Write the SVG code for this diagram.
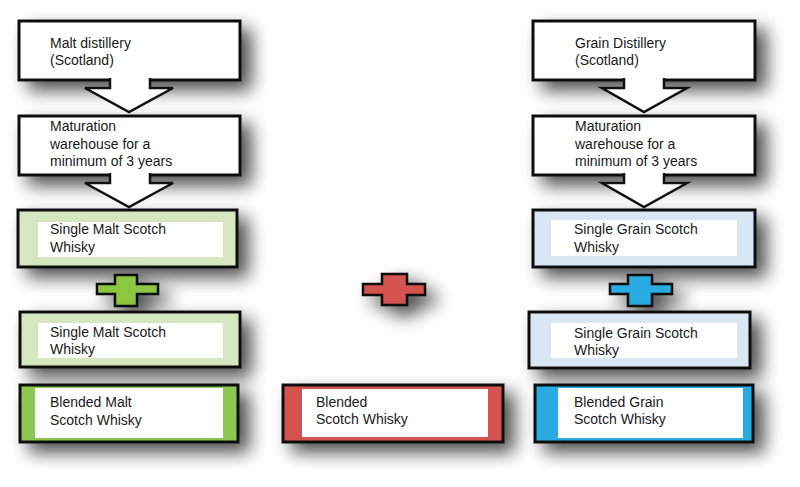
<svg xmlns="http://www.w3.org/2000/svg" width="800" height="487" viewBox="0 0 800 487">
<style>
text{font-family:"Liberation Sans",Arial,sans-serif;font-size:14px;fill:#1a1a1a}
.box{stroke:#111;stroke-width:3}
.inner{fill:#fff}
.arrow{fill:#fff;stroke:#111;stroke-width:2.5;stroke-linejoin:miter}
.plus{stroke:#111;stroke-width:2.5}
</style>
<defs>
<filter id="sh" filterUnits="userSpaceOnUse" x="0" y="0" width="800" height="487">
<feGaussianBlur in="SourceAlpha" stdDeviation="9"/>
<feOffset dx="10" dy="9" result="b"/>
<feComponentTransfer><feFuncA type="linear" slope="0.7"/></feComponentTransfer>
<feMerge><feMergeNode/><feMergeNode in="SourceGraphic"/></feMerge>
</filter>
</defs>
<rect width="800" height="487" fill="#fff"/>

<!-- Left column -->
<g id="malt-distillery">
<rect class="box" x="19" y="21" width="221" height="59" fill="#fff" filter="url(#sh)"/>
<text x="50" y="48">Malt distillery</text>
<text x="50" y="65">(Scotland)</text>
</g>
<g id="malt-maturation">
<rect class="box" x="19" y="116" width="221" height="59" fill="#fff" filter="url(#sh)"/>
<text x="50" y="131">Maturation</text>
<text x="50" y="148.5">warehouse for a</text>
<text x="50" y="166">minimum of 3 years</text>
</g>
<g id="single-malt-1">
<rect class="box" x="18" y="210" width="219" height="57" fill="#d6e6c0" filter="url(#sh)"/>
<rect class="inner" x="38" y="222" width="185" height="35"/>
<text x="50" y="234">Single Malt Scotch</text>
<text x="50" y="252">Whisky</text>
</g>
<g id="plus-green">
<path class="plus" fill="#8dc63f" filter="url(#sh)" d="M115,275 H137 V284 H158 V294 H137 V306 H115 V294 H97 V284 H115 Z"/>
</g>
<g id="single-malt-2">
<rect class="box" x="20" y="312" width="220" height="55" fill="#d6e6c0" filter="url(#sh)"/>
<rect class="inner" x="38" y="323" width="185" height="35"/>
<text x="50" y="337">Single Malt Scotch</text>
<text x="50" y="354">Whisky</text>
</g>
<g id="blended-malt">
<rect class="box" x="20" y="385" width="218" height="57" fill="#8dc651" filter="url(#sh)"/>
<rect class="inner" x="35" y="388" width="188" height="50"/>
<text x="50" y="407">Blended Malt</text>
<text x="50" y="425">Scotch Whisky</text>
</g>

<!-- Center -->
<g id="plus-red">
<path class="plus" fill="#d4534f" filter="url(#sh)" d="M382,274 H407 V284 H425 V295 H407 V305 H382 V295 H363 V284 H382 Z"/>
</g>
<g id="blended-scotch">
<rect class="box" x="283" y="385" width="220" height="57" fill="#d4534f" filter="url(#sh)"/>
<rect class="inner" x="302" y="389" width="186" height="48"/>
<text x="316" y="407">Blended</text>
<text x="316" y="424">Scotch Whisky</text>
</g>

<!-- Right column -->
<g id="grain-distillery">
<rect class="box" x="533" y="21" width="222" height="59" fill="#fff" filter="url(#sh)"/>
<text x="575" y="48">Grain Distillery</text>
<text x="575" y="65">(Scotland)</text>
</g>
<g id="grain-maturation">
<rect class="box" x="533" y="116" width="222" height="59" fill="#fff" filter="url(#sh)"/>
<text x="575" y="131">Maturation</text>
<text x="575" y="148.5">warehouse for a</text>
<text x="575" y="166">minimum of 3 years</text>
</g>
<g id="single-grain-1">
<rect class="box" x="533" y="210" width="222" height="57" fill="#dae6f4" filter="url(#sh)"/>
<rect class="inner" x="551" y="220" width="186" height="36"/>
<text x="574" y="234">Single Grain Scotch</text>
<text x="574" y="252">Whisky</text>
</g>
<g id="plus-blue">
<path class="plus" fill="#29abe2" filter="url(#sh)" d="M628,275 H652 V284 H672 V294 H652 V306 H628 V294 H610 V284 H628 Z"/>
</g>
<g id="single-grain-2">
<rect class="box" x="529" y="312" width="221" height="56" fill="#dae6f4" filter="url(#sh)"/>
<rect class="inner" x="551" y="323" width="186" height="35"/>
<text x="574" y="338">Single Grain Scotch</text>
<text x="574" y="355">Whisky</text>
</g>
<g id="blended-grain">
<rect class="box" x="535" y="385" width="218" height="57" fill="#29abe2" filter="url(#sh)"/>
<rect class="inner" x="558" y="388" width="185" height="50"/>
<text x="574" y="407">Blended Grain</text>
<text x="574" y="424">Scotch Whisky</text>
</g>

<!-- Connectors -->
<g id="connectors">
<path class="arrow" d="M110,78 V88 H85 L129,112 L173,88 H150 V78"/>
<path class="arrow" d="M110,173 V183 H85 L129,207 L173,183 H150 V173"/>
<path class="arrow" d="M624,78 V88 H602 L644,112 L687,88 H664 V78"/>
<path class="arrow" d="M624,173 V183 H602 L644,207 L687,183 H664 V173"/>
</g>
</svg>
